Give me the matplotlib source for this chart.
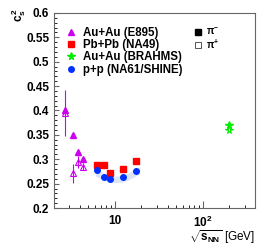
import matplotlib.pyplot as plt
from matplotlib.lines import Line2D
from matplotlib.ticker import MultipleLocator

plt.rcParams['font.family'] = ['Liberation Sans', 'DejaVu Sans']
plt.rcParams['font.weight'] = 'bold'
plt.rcParams['mathtext.fontset'] = 'custom'
plt.rcParams['mathtext.rm'] = 'Liberation Sans:bold'
plt.rcParams['mathtext.bf'] = 'Liberation Sans:bold'
plt.rcParams['mathtext.it'] = 'Liberation Sans:bold'

# E895 Au+Au
e895_x = [2.7, 3.3, 3.8, 4.3]
e895_neg = [0.400, 0.350, 0.315, 0.300]
e895_pos = [0.395, 0.271, 0.295, 0.285]
e895_pos_err = [0.048, 0.020, 0.012, 0.008]

# NA49 Pb+Pb
na49_x = [6.3, 7.6, 8.8, 12.3, 17.3]
na49_y = [0.289, 0.2875, 0.272, 0.280, 0.297]

# NA61/SHINE p+p
na61_x = [6.3, 7.6, 8.8, 12.3, 17.3]
na61_y = [0.277, 0.263, 0.2595, 0.263, 0.275]

# band around p+p
band_x = [6.0, 7.0, 8.0, 9.0, 10.0, 12.0, 14.0, 17.0, 19.2]
band_lo = [0.266, 0.259, 0.255, 0.253, 0.252, 0.253, 0.257, 0.265, 0.270]
band_hi = [0.280, 0.274, 0.269, 0.266, 0.265, 0.267, 0.271, 0.280, 0.285]

# BRAHMS Au+Au
brahms_x = [200]
brahms_neg = [0.370]
brahms_pos = [0.359]

magenta = '#cc00ee'
red = '#ff0000'
green = '#00ee00'
blue = '#0030ff'

fig = plt.figure(figsize=(2.7, 2.45), dpi=100)
ax = fig.add_axes([0.2, 0.151, 0.744, 0.796])

ax.fill_between(band_x, band_lo, band_hi, color='#dce5f6', lw=0)

ax.errorbar(e895_x, e895_pos, yerr=e895_pos_err, fmt='^', ms=4, mfc='none',
            mec=magenta, ecolor=magenta, elinewidth=0.8, capsize=0, mew=0.8)
ax.plot(e895_x, e895_neg, '^', ms=4, color=magenta, ls='none')
ax.plot(na49_x, na49_y, 's', ms=3.8, color=red, ls='none')
ax.plot(na61_x, na61_y, 'o', ms=4, color=blue, ls='none')
ax.plot(brahms_x, brahms_neg, '*', ms=5.5, color=green, ls='none')
ax.plot(brahms_x, brahms_pos, '*', ms=5.5, mfc='none', mec=green, mew=0.8, ls='none')

ax.set_xscale('log')
ax.set_xlim(2.03, 390)
ax.set_ylim(0.2, 0.6)
ax.yaxis.set_minor_locator(MultipleLocator(0.01))
ax.set_yticks([0.2, 0.25, 0.3, 0.35, 0.4, 0.45, 0.5, 0.55, 0.6],
              labels=['0.2', '0.25', '0.3', '0.35', '0.4', '0.45', '0.5', '0.55', '0.6'])
ax.set_xticks([10, 100], labels=['10', r'$\mathbf{10^{2}}$'])
ax.tick_params(axis='both', which='both', direction='in', labelsize=8.5)
ax.tick_params(axis='x', which='major', length=5, pad=5)
ax.tick_params(axis='x', which='minor', length=2.5)
ax.tick_params(axis='y', which='major', length=3.8)
ax.tick_params(axis='y', which='minor', length=2.2)
for s in ax.spines.values():
    s.set_color('#666666')
    s.set_linewidth(0.8)
ax.tick_params(colors='#666666', labelcolor='black')

ax.set_xlabel(r'$\sqrt{s_{NN}}$ [GeV]', loc='right', fontsize=8.5, labelpad=-1)
fig.text(19 / 270, 1 - 15 / 245, r'$c_s^2$', rotation=90, ha='center', va='center',
         fontsize=8.5)

handles = [
    Line2D([], [], marker='^', color=magenta, ls='none', ms=4),
    Line2D([], [], marker='s', color=red, ls='none', ms=3.8),
    Line2D([], [], marker='*', color=green, ls='none', ms=5.5),
    Line2D([], [], marker='o', color=blue, ls='none', ms=4),
]
leg = ax.legend(handles, ['Au+Au (E895)', 'Pb+Pb (NA49)', 'Au+Au (BRAHMS)', 'p+p (NA61/SHINE)'],
                loc='upper left', bbox_to_anchor=(0.035, 0.952), frameon=False,
                fontsize=8.3, handlelength=1.0, handletextpad=0.5,
                labelspacing=0.02, borderaxespad=0)
ax.add_artist(leg)

handles2 = [
    Line2D([], [], marker='s', color='black', ls='none', ms=4.5),
    Line2D([], [], marker='s', mfc='none', mec='#555555', mew=0.7, ls='none', ms=4.5),
]
ax.legend(handles2, [r'$\pi^{-}$', r'$\pi^{+}$'], loc='upper left',
          bbox_to_anchor=(0.68, 0.952), frameon=False, fontsize=7,
          handlelength=0.8, handletextpad=0.4, labelspacing=0.0, borderaxespad=0)

fig.savefig('out.png', dpi=100)
